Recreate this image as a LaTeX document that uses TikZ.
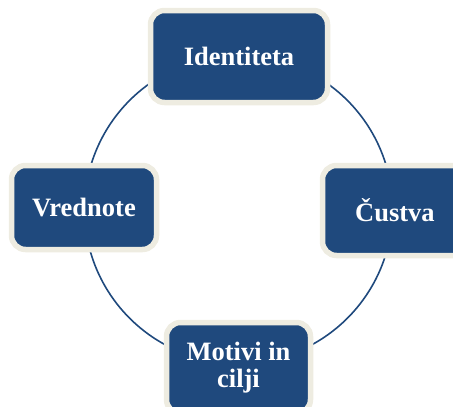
\documentclass[tikz,border=0pt]{standalone}
\usepackage{fontspec}
\setmainfont{Liberation Serif}
\usepackage{tikz}
\usetikzlibrary{positioning}
\definecolor{boxblue}{HTML}{1F497D}
\definecolor{boxrim}{HTML}{EEECE1}

\begin{document}
\begin{tikzpicture}[x=1pt,y=-1pt,
  stage/.style={draw=boxrim,line width=5.5pt,fill=boxblue,rounded corners=14pt,
    text=white,font=\fontsize{26.5}{27}\selectfont\bfseries,align=center,inner sep=0pt}]
  \useasboundingbox (0,0) rectangle (453,407);
  \clip (0,0) rectangle (453,407);
  \coordinate (c) at (238.5,209.3);
  \draw[boxblue,line width=1.6pt] (c) circle (154pt);
  \node[stage,minimum width=177pt,minimum height=92pt] (ident) at (239,56.5) {Identiteta};
  \node[stage,minimum width=145pt,minimum height=90pt] (cust) at (395,210.5) {Čustva};
  \node[stage,minimum width=144pt,minimum height=91pt] (motiv) at (238.5,368) {Motivi in\\cilji};
  \node[stage,minimum width=145pt,minimum height=84pt] (vred) at (84,207.5) {Vrednote};
\end{tikzpicture}
\end{document}
